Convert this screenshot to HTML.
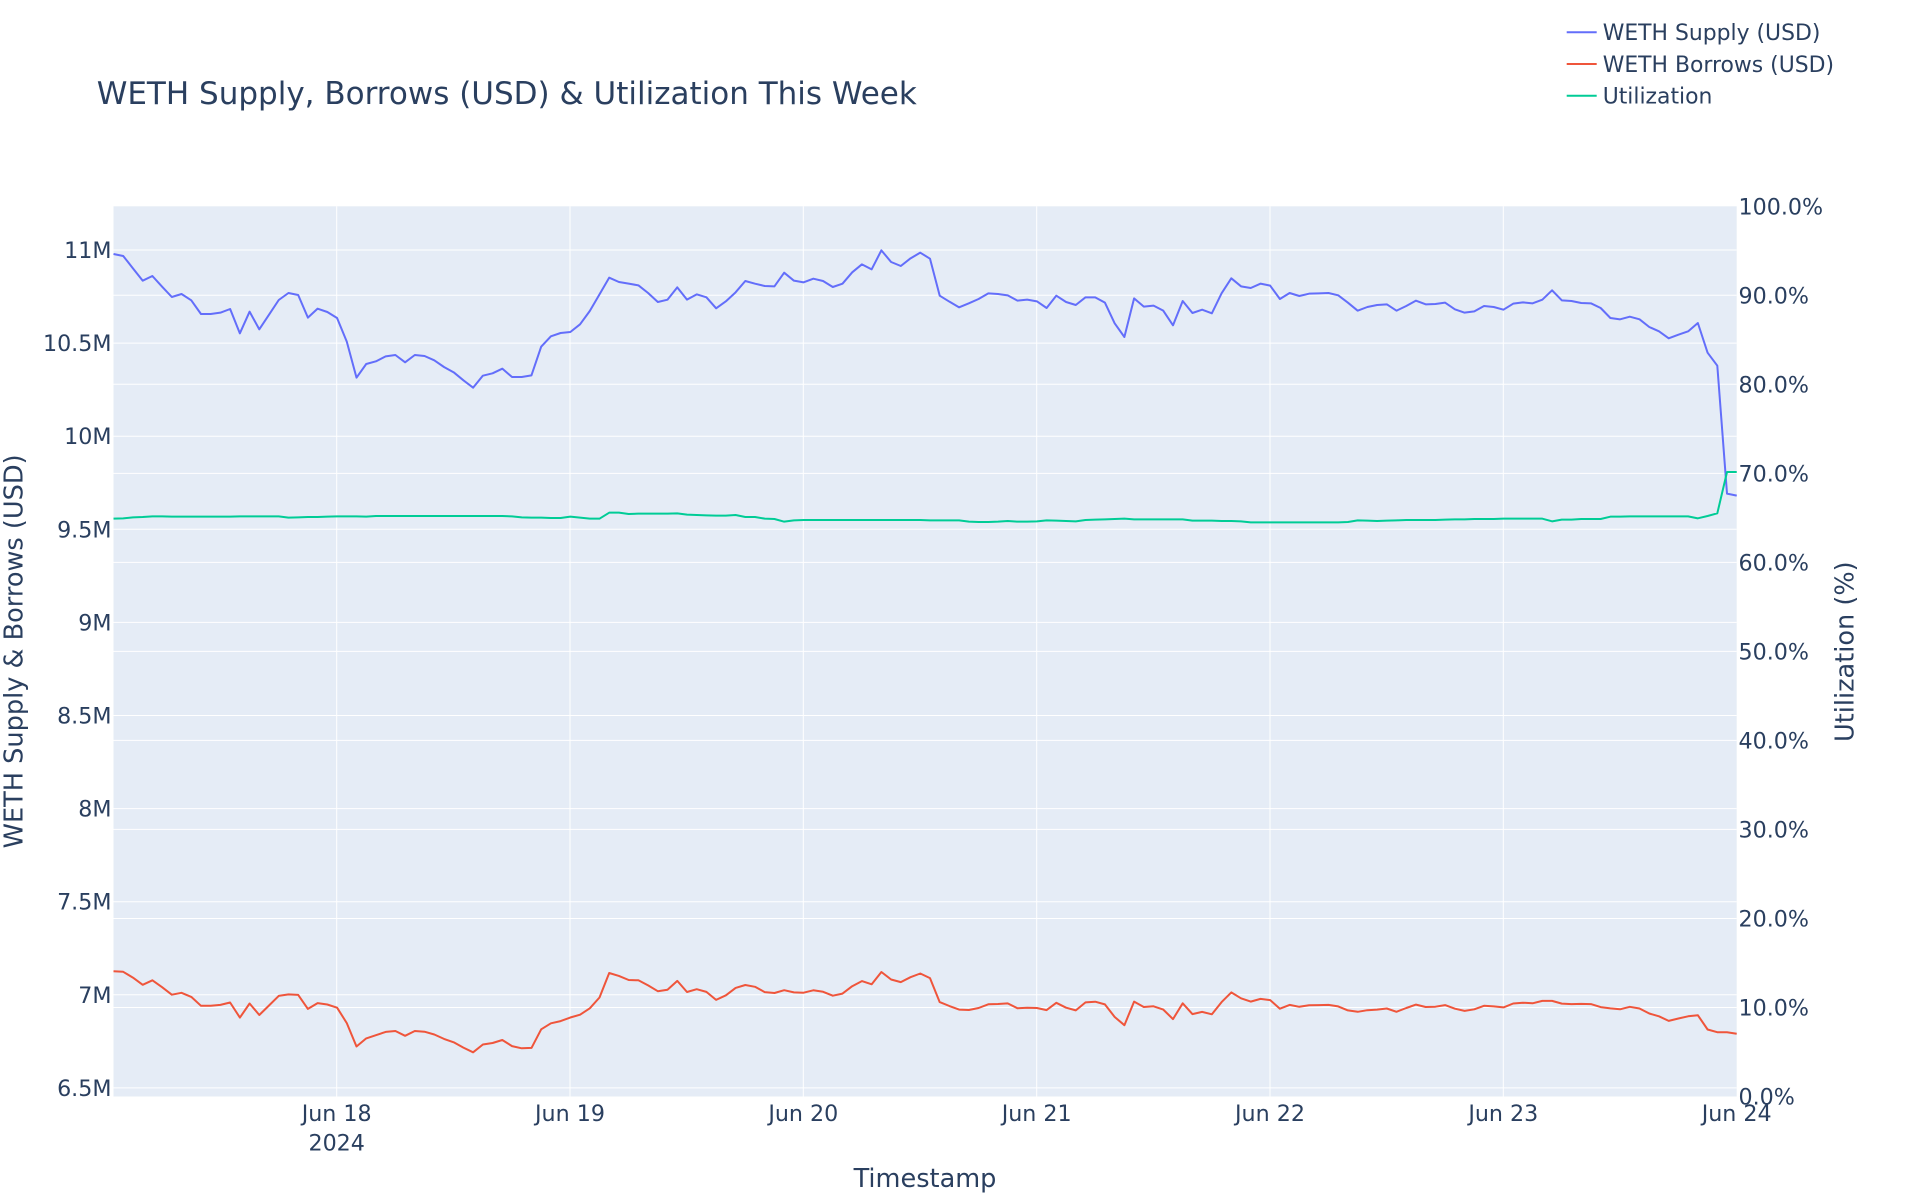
<!DOCTYPE html>
<html>
<head>
<meta charset="utf-8">
<style>
  html, body { margin: 0; padding: 0; background: #ffffff; }
  svg { display: block; }
  text { font-family: "DejaVu Sans", "Liberation Sans", sans-serif; fill: #2a3f5f; }
</style>
</head>
<body>
<svg id="chart" width="1920" height="1200" viewBox="0 0 1920 1200" xmlns="http://www.w3.org/2000/svg">
  <rect x="0" y="0" width="1920" height="1200" fill="#ffffff"/>
  <!-- plot area -->
  <rect x="113.5" y="206.3" width="1623.2" height="890.2" fill="#E5ECF6"/>

  <!-- vertical gridlines -->
  <g stroke="#ffffff" stroke-width="1">
    <line x1="336.7" y1="206.3" x2="336.7" y2="1096.5"/>
    <line x1="570" y1="206.3" x2="570" y2="1096.5"/>
    <line x1="803.3" y1="206.3" x2="803.3" y2="1096.5"/>
    <line x1="1036.7" y1="206.3" x2="1036.7" y2="1096.5"/>
    <line x1="1270" y1="206.3" x2="1270" y2="1096.5"/>
    <line x1="1503.3" y1="206.3" x2="1503.3" y2="1096.5"/>
  </g>
  <!-- primary horizontal gridlines -->
  <g stroke="#ffffff" stroke-width="1">
    <line x1="113.5" y1="250" x2="1736.7" y2="250"/>
    <line x1="113.5" y1="343.1" x2="1736.7" y2="343.1"/>
    <line x1="113.5" y1="436.2" x2="1736.7" y2="436.2"/>
    <line x1="113.5" y1="529.3" x2="1736.7" y2="529.3"/>
    <line x1="113.5" y1="622.4" x2="1736.7" y2="622.4"/>
    <line x1="113.5" y1="715.5" x2="1736.7" y2="715.5"/>
    <line x1="113.5" y1="808.6" x2="1736.7" y2="808.6"/>
    <line x1="113.5" y1="901.7" x2="1736.7" y2="901.7"/>
    <line x1="113.5" y1="994.8" x2="1736.7" y2="994.8"/>
    <line x1="113.5" y1="1087.9" x2="1736.7" y2="1087.9"/>
  </g>
  <!-- secondary horizontal gridlines -->
  <g stroke="#ffffff" stroke-width="1">
    <line x1="113.5" y1="1007.5" x2="1736.7" y2="1007.5"/>
    <line x1="113.5" y1="918.5" x2="1736.7" y2="918.5"/>
    <line x1="113.5" y1="829.4" x2="1736.7" y2="829.4"/>
    <line x1="113.5" y1="740.4" x2="1736.7" y2="740.4"/>
    <line x1="113.5" y1="651.4" x2="1736.7" y2="651.4"/>
    <line x1="113.5" y1="562.4" x2="1736.7" y2="562.4"/>
    <line x1="113.5" y1="473.4" x2="1736.7" y2="473.4"/>
    <line x1="113.5" y1="384.3" x2="1736.7" y2="384.3"/>
    <line x1="113.5" y1="295.3" x2="1736.7" y2="295.3"/>
  </g>

  <!-- Supply trace (static, scaled coords) -->
  <g transform="translate(113.5 240) scale(9.72 0.333333)">
    <polyline fill="none" stroke="#636EFA" stroke-width="2" vector-effect="non-scaling-stroke" stroke-linejoin="round"
      points="0,42 1,48 2,85 3,122 4,108 5,140 6,171 7,162 8,181 9,222 10,222 11,218 12,207 13,280 14,215 15,268 16,224 17,180 18,159 19,165 20,233 21,206 22,216 23,234 24,305 25,413 26,372 27,364 28,349 29,345 30,367 31,345 32,348 33,361 34,381 35,397 36,421 37,443 38,407 39,400 40,386 41,411 42,411 43,406 44,320 45,289 46,279 47,276 48,253 49,213 50,163 51,113 52,126 53,131 54,136 55,159 56,186 57,179 58,142 59,179 60,163 61,172 62,205 63,184 64,157 65,123 66,131 67,138 68,139 69,98 70,122 71,127 72,116 73,123 74,141 75,131 76,97 77,73 78,88 79,31 80,66 81,78 82,55 83,38 84,56 85,167 86,185 87,202 88,190 89,177 90,160 91,162 92,166 93,182 94,179 95,184 96,204 97,167 98,186 99,195 100,172 101,172 102,188 103,250 104,291 105,175 106,200 107,197 108,212 109,256 110,183 111,219 112,209 113,220 114,160 115,115 116,139 117,144 118,131 119,137 120,177 121,159 122,168 123,161 124,160 125,159 126,166 127,188 128,212 129,201 130,195 131,193 132,212 133,198 134,182 135,193 136,192 137,188 138,208 139,218 140,214 141,198 142,201 143,209 144,191 145,187 146,190 147,179 148,151 149,181 150,183 151,189 152,190 153,204 154,234 155,238 156,230 157,238 158,261 159,274 160,295 161,284 162,274 163,249 164,338 165,377 166,761 167,767"/>
  </g>

  <!-- Borrows trace (computed) -->
  <polyline id="borrows" fill="none" stroke="#EF553B" stroke-width="2" stroke-linejoin="round" points=""/>

  <!-- Utilization trace (static, scaled coords) -->
  <g transform="translate(113.5 240) scale(9.72 0.333333)">
    <polyline fill="none" stroke="#00CC96" stroke-width="2" vector-effect="non-scaling-stroke" stroke-linejoin="round"
      points="0,836 1,835 2,832 3,831 4,829 5,829 6,830 7,830 8,830 9,830 10,830 11,830 12,830 13,829 14,829 15,829 16,829 17,829 18,833 19,832 20,831 21,831 22,830 23,829 24,829 25,829 26,830 27,828 28,828 29,828 30,828 31,828 32,828 33,828 34,828 35,828 36,828 37,828 38,828 39,828 40,828 41,829 42,832 43,833 44,833 45,834 46,834 47,830 48,833 49,836 50,836 51,818 52,818 53,822 54,821 55,821 56,821 57,821 58,820 59,824 60,825 61,826 62,827 63,827 64,825 65,831 66,831 67,836 68,837 69,845 70,841 71,840 72,840 73,840 74,840 75,840 76,840 77,840 78,840 79,840 80,840 81,840 82,840 83,840 84,841 85,841 86,841 87,841 88,845 89,846 90,846 91,845 92,843 93,845 94,845 95,844 96,841 97,842 98,843 99,844 100,840 101,839 102,838 103,837 104,836 105,838 106,838 107,838 108,838 109,838 110,838 111,842 112,842 113,842 114,843 115,843 116,844 117,847 118,847 119,847 120,847 121,847 122,847 123,847 124,847 125,847 126,847 127,846 128,841 129,842 130,843 131,842 132,841 133,840 134,840 135,840 136,840 137,839 138,838 139,838 140,837 141,837 142,837 143,836 144,836 145,836 146,836 147,836 148,844 149,839 150,839 151,837 152,837 153,837 154,830 155,830 156,829 157,829 158,829 159,829 160,829 161,829 162,829 163,835 164,828 165,820 166,696 167,696"/>
  </g>

  <!-- Title -->
  <text x="96.7" y="104" font-size="31">WETH Supply, Borrows (USD) &amp; Utilization This Week</text>

  <!-- Left tick labels -->
  <g font-size="22.2" text-anchor="end">
    <text x="111.5" y="258">11M</text>
    <text x="111.5" y="351.1">10.5M</text>
    <text x="111.5" y="444.2">10M</text>
    <text x="111.5" y="537.3">9.5M</text>
    <text x="111.5" y="630.4">9M</text>
    <text x="111.5" y="723.5">8.5M</text>
    <text x="111.5" y="816.6">8M</text>
    <text x="111.5" y="909.7">7.5M</text>
    <text x="111.5" y="1002.8">7M</text>
    <text x="111.5" y="1095.9">6.5M</text>
  </g>

  <!-- Right tick labels -->
  <g font-size="22.2" text-anchor="start">
    <text x="1738.5" y="214.3">100.0%</text>
    <text x="1738.5" y="303.3">90.0%</text>
    <text x="1738.5" y="392.3">80.0%</text>
    <text x="1738.5" y="481.4">70.0%</text>
    <text x="1738.5" y="570.4">60.0%</text>
    <text x="1738.5" y="659.4">50.0%</text>
    <text x="1738.5" y="748.4">40.0%</text>
    <text x="1738.5" y="837.4">30.0%</text>
    <text x="1738.5" y="926.5">20.0%</text>
    <text x="1738.5" y="1015.5">10.0%</text>
    <text x="1738.5" y="1104.5">0.0%</text>
  </g>

  <!-- X tick labels -->
  <g font-size="22.2" text-anchor="middle">
    <text x="336.7" y="1121">Jun 18</text>
    <text x="336.7" y="1150.5">2024</text>
    <text x="570" y="1121">Jun 19</text>
    <text x="803.3" y="1121">Jun 20</text>
    <text x="1036.7" y="1121">Jun 21</text>
    <text x="1270" y="1121">Jun 22</text>
    <text x="1503.3" y="1121">Jun 23</text>
    <text x="1736.7" y="1121">Jun 24</text>
  </g>

  <!-- Axis titles -->
  <text x="925" y="1187" font-size="25.6" text-anchor="middle">Timestamp</text>
  <text transform="translate(22.5 651.4) rotate(-90)" font-size="25.6" text-anchor="middle">WETH Supply &amp; Borrows (USD)</text>
  <text transform="translate(1853.5 651.7) rotate(-90)" font-size="25.6" text-anchor="middle">Utilization (%)</text>

  <!-- Legend -->
  <line x1="1566.7" y1="32.3" x2="1596.7" y2="32.3" stroke="#636EFA" stroke-width="2"/>
  <text x="1602.7" y="40.2" font-size="21.9">WETH Supply (USD)</text>
  <line x1="1566.7" y1="64" x2="1596.7" y2="64" stroke="#EF553B" stroke-width="2"/>
  <text x="1602.7" y="71.9" font-size="21.9">WETH Borrows (USD)</text>
  <line x1="1566.7" y1="95.7" x2="1596.7" y2="95.7" stroke="#00CC96" stroke-width="2"/>
  <text x="1602.7" y="103.6" font-size="21.9">Utilization</text>
</svg>
<script>
(function(){
  var S=[42,48,85,122,108,140,171,162,181,222,
222,218,207,280,215,268,224,180,159,165,
233,206,216,234,305,413,372,364,349,345,
367,345,348,361,381,397,421,443,407,400,
386,411,411,406,320,289,279,276,253,213,
163,113,126,131,136,159,186,179,142,179,
163,172,205,184,157,123,131,138,139,98,
122,127,116,123,141,131,97,73,88,31,
66,78,55,38,56,167,185,202,190,177,
160,162,166,182,179,184,204,167,186,195,
172,172,188,250,291,175,200,197,212,256,
183,219,209,220,160,115,139,144,131,137,
177,159,168,161,160,159,166,188,212,201,
195,193,212,198,182,193,192,188,208,218,
214,198,201,209,191,187,190,179,151,181,
183,189,190,204,234,238,230,238,261,274,
295,284,274,249,338,377,761,767];
  var U=[836,835,832,831,829,829,830,830,830,830,
830,830,830,829,829,829,829,829,833,832,
831,831,830,829,829,829,830,828,828,828,
828,828,828,828,828,828,828,828,828,828,
828,829,832,833,833,834,834,830,833,836,
836,818,818,822,821,821,821,821,820,824,
825,826,827,827,825,831,831,836,837,845,
841,840,840,840,840,840,840,840,840,840,
840,840,840,840,841,841,841,841,845,846,
846,845,843,845,845,844,841,842,843,844,
840,839,838,837,836,838,838,838,838,838,
838,842,842,842,843,843,844,847,847,847,
847,847,847,847,847,847,847,846,841,842,
843,842,841,840,840,840,840,839,838,838,
837,837,837,836,836,836,836,836,844,839,
839,837,837,837,830,830,829,829,829,829,
829,829,829,835,828,820,696,696];
  var pts=[];
  for(var i=0;i<S.length;i++){
    var yS=240+S[i]/3, yU=240+U[i]/3;
    var s=11-(yS-250)/186.2;
    var u=(1096.5-yU)/890.2;
    var b=s*u;
    var yB=250+(11-b)*186.2;
    pts.push((113.5+9.72*i).toFixed(1)+','+yB.toFixed(1));
  }
  document.getElementById('borrows').setAttribute('points',pts.join(' '));
})();
</script>
</body>
</html>
